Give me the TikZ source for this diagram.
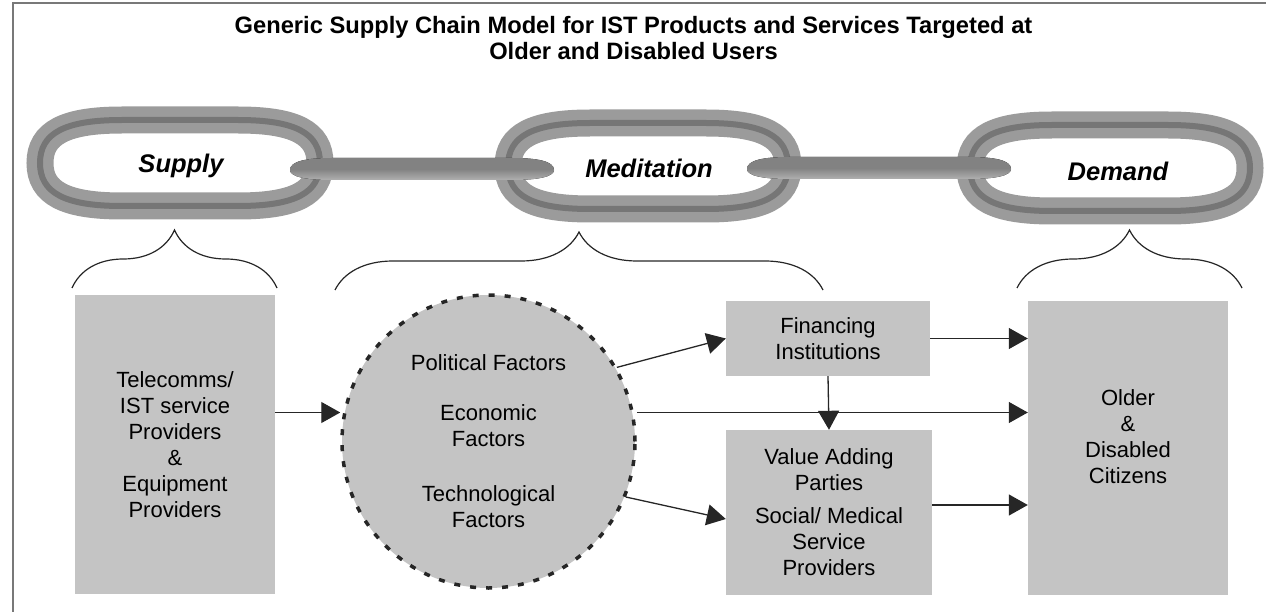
\documentclass[tikz,border=0pt]{standalone}
\usepackage{fontspec}
\setmainfont{Liberation Sans}
\usetikzlibrary{arrows.meta,decorations.pathreplacing,positioning}
\definecolor{boxgray}{RGB}{196,196,196}
\definecolor{ringlight}{RGB}{155,155,155}
\definecolor{ringdark}{RGB}{118,118,118}
\definecolor{barlight}{RGB}{176,176,176}
\definecolor{bardark}{RGB}{130,130,130}
\definecolor{framegray}{RGB}{120,120,120}
\tikzset
{
    bodytext/.style = {font=\fontsize{22}{26}\selectfont, align=center, text=black},
    titletext/.style = {font=\fontsize{23.7}{26}\selectfont\bfseries, align=center, inner sep=0pt},
    linklabel/.style = {font=\fontsize{25.5}{30}\selectfont\bfseries\itshape, anchor=base, inner sep=0pt},
    graybox/.style = {rectangle, fill=boxgray, inner sep=0pt, bodytext},
    factorcircle/.style = {circle, fill=boxgray, draw=black!85, line width=3.5pt, dash pattern=on 6pt off 10pt, minimum size=293pt, inner sep=0pt, bodytext},
    flow/.style = {draw=black!85, line width=1.3pt, -{Triangle[length=19pt,width=21pt]}},
    bracket/.style = {decorate, decoration={brace, amplitude=58pt}, draw=black!85, line width=1.2pt},
    pics/chainring/.style = {code = {
        \draw[ringdark, line width=6pt, preaction={draw=ringlight, line width=27pt}]
            (-58,-43) -- (58,-43) .. controls (115,-43) and (140,-30) .. (140,0)
            .. controls (140,30) and (115,43) .. (58,43) -- (-58,43)
            .. controls (-115,43) and (-140,30) .. (-140,0)
            .. controls (-140,-30) and (-115,-43) .. (-58,-43) -- cycle;
    }},
    pics/chainbar/.style = {code = {
        \fill[top color=bardark, bottom color=barlight, middle color=bardark]
            (-132,1) .. controls (-132,-8) and (-115,-11) .. (-90,-11) -- (90,-11)
            .. controls (115,-11) and (132,-8) .. (132,1)
            .. controls (132,8) and (115,11) .. (90,11) -- (-90,11)
            .. controls (-115,11) and (-132,8) .. (-132,1) -- cycle;
    }}
}

\begin{document}
\begin{tikzpicture}[x=1pt, y=-1pt]
\useasboundingbox (0,0) rectangle (1266,612);
\draw[framegray, line width=1.5pt] (1266,3) -- (13,3) -- (13,612);

\node[titletext] (title) at (633.5,38.5) {Generic Supply Chain Model for IST Products and Services Targeted at\\Older and Disabled Users};

\pic at (180,163) {chainring};
\pic at (648,166) {chainring};
\pic at (1110,168) {chainring};
\pic at (422,169) {chainbar};
\pic at (879,168) {chainbar};

\node[linklabel] (supplylabel) at (181,173) {Supply};
\node[linklabel] (meditationlabel) at (649,178) {Meditation};
\node[linklabel] (demandlabel) at (1118,181) {Demand};

\draw[bracket] (72,288) -- (277,288);
\draw[bracket] (335,290) -- (823,290);
\draw[bracket] (1017,288) -- (1242,288);

\node[graybox, minimum width=200pt, minimum height=299pt] (providers) at (175,444.5) {Telecomms/\\IST service\\Providers\\\&\\Equipment\\Providers};
\node[factorcircle] (factors) at (488.5,441.5) {Political Factors\\[24pt]Economic\\Factors\\[29pt]Technological\\Factors};
\node[graybox, minimum width=204pt, minimum height=75pt] (financing) at (828,338.5) {Financing\\Institutions};
\node[graybox, minimum width=206pt, minimum height=165pt] (valueadding) at (829,512.5) {Value Adding\\Parties\\[7pt]Social/ Medical\\Service\\Providers};
\node[graybox, minimum width=200pt, minimum height=294pt] (citizens) at (1128,448) {};
\node[bodytext, inner sep=0pt] (citizenslabel) at (1128,437) {Older\\\&\\Disabled\\Citizens};

\coordinate (midrow) at (0,412.5);
\coordinate (valuein) at (0,519);
\coordinate (lowrow) at (0,505);

\draw[flow] (providers.east |- midrow) -- (factors.west |- midrow);
\draw[flow] (factors.30) -- (financing.west);
\draw[flow] (factors.-22) -- (valueadding.west |- valuein);
\draw[flow] (factors.east |- midrow) -- (citizens.west |- midrow);
\draw[flow] (financing.south) -- (valueadding.north);
\draw[flow] (financing.east) -- (financing.east -| citizens.west);
\draw[flow] (valueadding.east |- lowrow) -- (citizens.west |- lowrow);
\end{tikzpicture}
\end{document}
